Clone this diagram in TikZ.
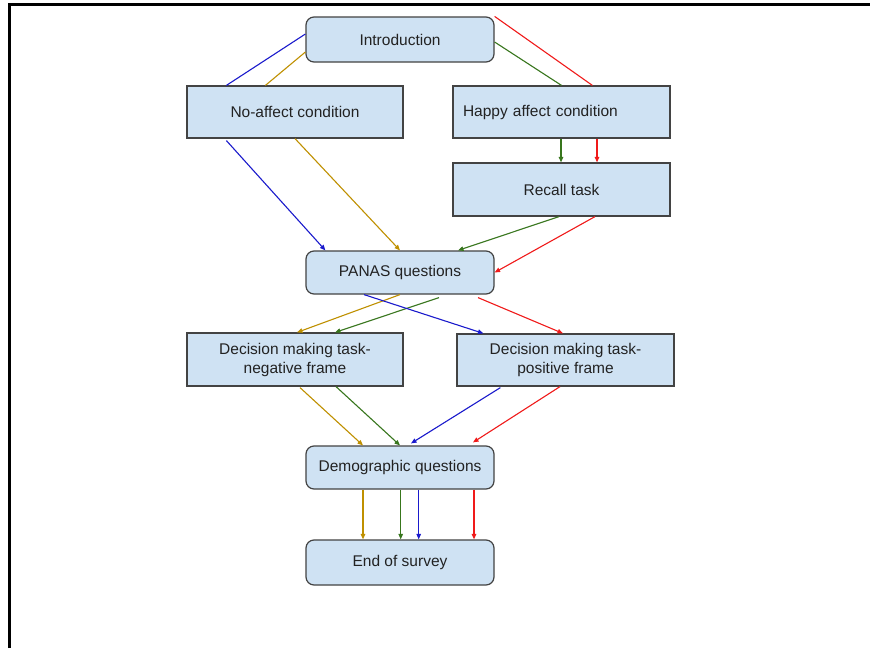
\documentclass[tikz,border=0pt]{standalone}
\usepackage{fontspec}
\setmainfont{Liberation Sans}
\usetikzlibrary{arrows.meta}
\definecolor{boxfill}{HTML}{CFE2F3}
\definecolor{boxdraw}{HTML}{434343}
\definecolor{cblue}{HTML}{1A1ACC}
\definecolor{cgold}{HTML}{BF9000}
\definecolor{cgreen}{HTML}{38761D}
\definecolor{cred}{HTML}{F01A1A}
\definecolor{txt}{HTML}{222222}
\begin{document}
\begin{tikzpicture}[x=1pt,y=-1pt,
  boxstyle/.style={draw=boxdraw,fill=boxfill,line width=1.2pt,text=txt,
    font=\fontsize{15.5}{19}\selectfont,inner sep=0pt,align=center},
  sqbox/.style={boxstyle,minimum width=216pt,minimum height=52pt},
  rbox/.style={boxstyle,rounded corners=8pt,minimum width=188pt,minimum height=44pt},
  conn/.style={line width=1.1pt},
  arr/.style={conn,-{Triangle[length=5.5pt,width=4.5pt]}}
]
\useasboundingbox (0,0) rectangle (870,648);
\fill[white] (0,0) rectangle (870,648);
\draw[line width=3pt] (9.5,648) -- (9.5,4) -- (870,4);

\node[rbox,minimum height=45pt] (intro) at (400,39.5) {Introduction};
\node[sqbox] (noaff) at (295,112) {No-affect condition};
\node[sqbox,minimum width=217pt,text width=197pt,align=left] (happy) at (561.5,112) {Happy affect condition};
\node[sqbox,minimum width=217pt,minimum height=53pt] (recall) at (561.5,189.5) {Recall task};
\node[rbox,minimum height=43pt] (panas) at (400,272.5) {PANAS questions};
\node[sqbox,minimum height=53pt] (decneg) at (295,359.5) {Decision making task-\\negative frame};
\node[sqbox,minimum width=217pt] (decpos) at (565.5,360) {Decision making task-\\positive frame};
\node[rbox,minimum height=43pt] (demo) at (400,467.5) {Demographic questions};
\node[rbox,minimum height=45pt] (end) at (400,562.5) {End of survey};

% Introduction -> conditions
\draw[conn,cblue] ([yshift=5.5pt]intro.west) -- ([xshift=40pt]noaff.north west);
\draw[conn,cgold] ([yshift=-12.5pt]intro.west) -- ([xshift=79pt]noaff.north west);
\draw[conn,cred] (intro.north east) -- ([xshift=140pt]happy.north west);
\draw[conn,cgreen] ([yshift=-2.5pt]intro.east) -- (happy.north);

% Happy -> Recall
\draw[arr,cgreen] ([xshift=-0.5pt]happy.south) -- ([xshift=-0.5pt]recall.north);
\draw[arr,cred] ([xshift=35.5pt]happy.south) -- ([xshift=35.5pt]recall.north);

% No-affect -> PANAS
\draw[arr,cblue] ([xshift=40pt,yshift=-2pt]noaff.south west) -- ([xshift=20pt]panas.north west);
\draw[arr,cgold] (noaff.south) -- (panas.north);

% Recall -> PANAS
\draw[arr,cgreen] ([xshift=-2.5pt]recall.south) -- ([xshift=58pt]panas.north);
\draw[arr,cred] ([xshift=33.5pt]recall.south) -- (panas.east);

% PANAS -> decisions
\draw[arr,cgold] (panas.south) -- ([xshift=2pt]decneg.north);
\draw[arr,cgreen] ([xshift=39pt,yshift=-3pt]panas.south) -- ([xshift=40pt]decneg.north);
\draw[arr,cblue] ([xshift=-36pt]panas.south) -- ([xshift=27pt]decpos.north west);
\draw[arr,cred] ([xshift=78pt,yshift=-3pt]panas.south) -- ([xshift=-2.5pt]decpos.north);

% decisions -> demographic
\draw[arr,cgold] ([xshift=5pt,yshift=-1pt]decneg.south) -- ([xshift=-37pt]demo.north);
\draw[arr,cgreen] ([xshift=41pt]decneg.south) -- (demo.north);
\draw[arr,cblue] ([xshift=44pt,yshift=-1pt]decpos.south west) -- ([xshift=11pt,yshift=2pt]demo.north);
\draw[arr,cred] ([xshift=-5.5pt]decpos.south) -- ([xshift=73pt,yshift=3pt]demo.north);

% demographic -> end
\draw[arr,cgold] ([xshift=-37pt]demo.south) -- ([xshift=-37pt]end.north);
\draw[arr,cgreen] ([xshift=0.7pt]demo.south) -- ([xshift=0.7pt]end.north);
\draw[arr,cblue] ([xshift=18.7pt]demo.south) -- ([xshift=18.7pt]end.north);
\draw[arr,cred] ([xshift=74pt]demo.south) -- ([xshift=74pt]end.north);
\end{tikzpicture}
\end{document}
